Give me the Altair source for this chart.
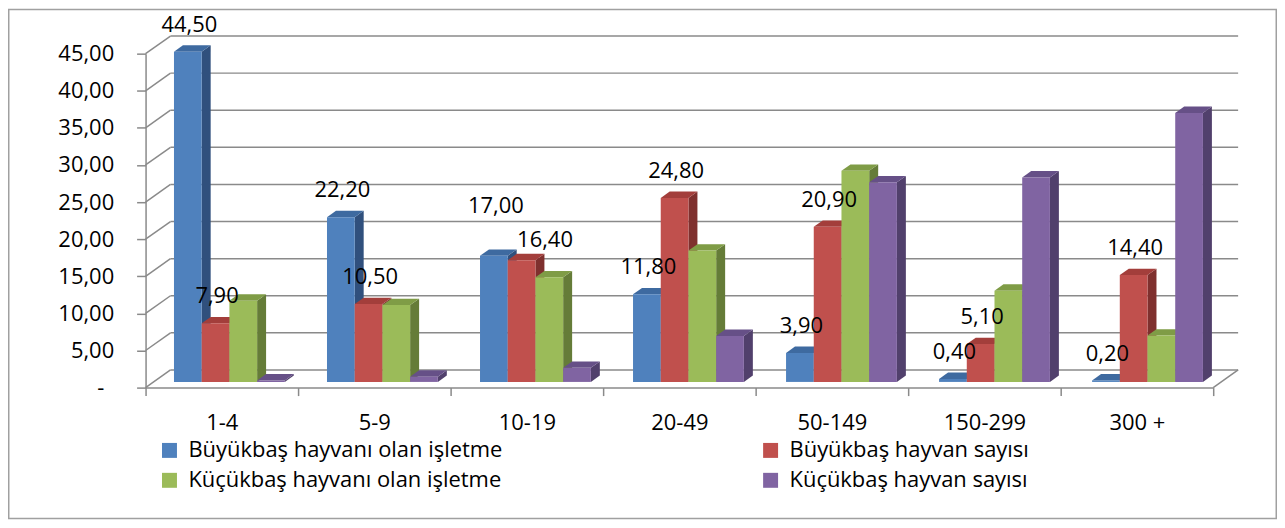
import altair as alt
import pandas as pd

# ---------------- data ----------------
categories = ["1-4", "5-9", "10-19", "20-49", "50-149", "150-299", "300 +"]
series = [
    "Büyükbaş hayvanı olan işletme",
    "Büyükbaş hayvan sayısı",
    "Küçükbaş hayvanı olan işletme",
    "Küçükbaş hayvan sayısı",
]
buyukbas_isletme = [44.5, 22.2, 17.0, 11.8, 3.9, 0.4, 0.2]
buyukbas_sayi = [7.9, 10.5, 16.4, 24.8, 20.9, 5.1, 14.4]
kucukbas_isletme = [10.95, 10.35, 14.1, 17.7, 28.45, 12.3, 6.25]
kucukbas_sayi = [0.2, 0.7, 1.9, 6.2, 26.9, 27.55, 36.25]
values = [buyukbas_isletme, buyukbas_sayi, kucukbas_isletme, kucukbas_sayi]
labelled_series = [0, 1]          # only these series carry data labels
y_ticks = [0, 5, 10, 15, 20, 25, 30, 35, 40, 45]

# ---------------- style ----------------
front_colors = ["#4F81BD", "#C0504D", "#9BBB59", "#8064A2"]
top_colors = ["#3E6AA0", "#A33E3B", "#7F9C46", "#665087"]
side_colors = ["#30507D", "#7F302E", "#657C38", "#51406C"]
FONT = "Open Sans"
FS = 22
GRID = "#8A8A8A"

W, H = 1071, 335
PAD = {"left": 138, "top": 45, "right": 64, "bottom": 132}
PX_X = W / len(categories)
PX_Y = H / 45.0
WALL_DX, WALL_DY = 25, 17.7        # back wall depth (px)
BAR_DX, BAR_DY = 8, 5.7            # bar front plane depth (px)
DEP_DX, DEP_DY = 9, 6.4            # bar thickness (px)
BAR_W = 27.8
# label nudges (px, x right / y up) to avoid overlaps, like the original
NUDGE = {(0, 2): (0.5, 23), (1, 2): (22, -7)}

wdx, wdy = WALL_DX / PX_X, WALL_DY / PX_Y
ddx, ddy = DEP_DX / PX_X, DEP_DY / PX_Y

bars, sides, tops, labels = [], [], [], []
for i, cat in enumerate(categories):
    start = 20.5 + 0.5 * i + BAR_DX
    for j, s in enumerate(series):
        v = values[j][i]
        x1 = i + (start + j * BAR_W) / PX_X
        x2 = x1 + BAR_W / PX_X
        yb = BAR_DY / PX_Y
        yt = yb + v
        bid = f"b{i}{j}"
        bars.append(dict(bid=bid, series=s, bx1=x1, bx2=x2, byb=yb, byt=yt))
        sides.append(dict(bid=bid, sx=x2, sy=yt, sy2=yb, clr=side_colors[j]))
        sides.append(dict(bid=bid, sx=x2 + ddx, sy=yt + ddy, sy2=yb + ddy, clr=side_colors[j]))
        tops.append(dict(bid=bid, ty=yt, tx=x1, tx2=x2, clr=top_colors[j]))
        tops.append(dict(bid=bid, ty=yt + ddy, tx=x1 + ddx, tx2=x2 + ddx, clr=top_colors[j]))
        if j in labelled_series:
            nx, ny = NUDGE.get((j, i), (0, 0))
            labels.append(dict(
                lx=(x1 + x2) / 2 + (1.5 + nx) / PX_X,
                ly=yt + ny / PX_Y,
                text=f"{v:.2f}".replace(".", ","),
            ))

bars_df = pd.DataFrame(bars)
sides_df = pd.DataFrame(sides)
tops_df = pd.DataFrame(tops)
labels_df = pd.DataFrame(labels)

n = len(y_ticks)
side_wall = pd.DataFrame(dict(wx=[0.0] * n, wx2=[wdx] * n,
                              wy=y_ticks, wy2=[t + wdy for t in y_ticks]))
back_wall = pd.DataFrame(dict(gx=[wdx] * n, gx2=[len(categories) + wdx] * n,
                              gy=[t + wdy for t in y_ticks]))
floor_edge = pd.DataFrame(dict(fx=[float(len(categories))], fx2=[len(categories) + wdx],
                               fy=[0.0], fy2=[wdy]))

# ---------------- scales & axes ----------------
xscale = alt.Scale(domain=[0, len(categories)], nice=False, zero=False)
yscale = alt.Scale(domain=[0, 45], nice=False, zero=True)

cat_js = "[" + ",".join("'" + c + "'" for c in categories) + "]"
x_vals = [k / 2 for k in range(0, 2 * len(categories) + 1)]
xaxis = alt.Axis(
    values=x_vals,
    labelExpr=f"datum.value % 1 == 0.5 ? {cat_js}[floor(datum.value)] : ''",
    tickOpacity=alt.condition("datum.value % 1 == 0", alt.value(1), alt.value(0)),
    title=None, grid=False, labelOverlap=False, labelFlush=False,
    tickSize=8, labelPadding=17, tickColor=GRID, domainColor=GRID,
    tickWidth=1.5, domainWidth=1.5, zindex=1,
    labelFont=FONT, labelFontSize=FS, labelColor="black",
)
yaxis = alt.Axis(
    values=y_ticks,
    labelExpr="datum.value == 0 ? '-' : replace(format(datum.value, '.2f'), '.', ',')",
    title=None, grid=False, tickSize=9,
    labelPadding=alt.condition("datum.value == 0", alt.value(33), alt.value(23)),
    zindex=1,
    tickColor=GRID, domainColor=GRID, tickWidth=1.5, domainWidth=1.5,
    labelFont=FONT, labelFontSize=FS, labelColor="black",
)


def X(f):
    return alt.X(f, type="quantitative", scale=xscale, axis=xaxis)


def Y(f):
    return alt.Y(f, type="quantitative", scale=yscale, axis=yaxis)


# ---------------- layers ----------------
frame = alt.Chart(pd.DataFrame({"a": [0]})).mark_rect(
    fillOpacity=0, stroke="#A0A0A0", strokeWidth=1.5
).encode(
    x=alt.value(-PAD["left"] + 0.75), x2=alt.value(W + PAD["right"] - 0.75),
    y=alt.value(-PAD["top"] + 0.75), y2=alt.value(H + PAD["bottom"] - 0.75),
)

wall_lines = alt.Chart(side_wall).mark_rule(color=GRID, strokeWidth=1.5).encode(
    x=X("wx"), x2="wx2", y=Y("wy"), y2="wy2")
back_lines = alt.Chart(back_wall).mark_rule(color=GRID, strokeWidth=1.5).encode(
    x=X("gx"), x2="gx2", y=Y("gy"))
floor_line = alt.Chart(floor_edge).mark_rule(color=GRID, strokeWidth=1.5).encode(
    x=X("fx"), x2="fx2", y=Y("fy"), y2="fy2")

side_faces = alt.Chart(sides_df).mark_area(orient="vertical").encode(
    x=X("sx"), y=Y("sy"), y2="sy2",
    detail="bid:N",
    fill=alt.Fill("clr:N", scale=None, legend=None),
)
top_faces = alt.Chart(tops_df).mark_area(orient="horizontal").encode(
    y=Y("ty"), x=X("tx"), x2="tx2",
    detail="bid:N",
    fill=alt.Fill("clr:N", scale=None, legend=None),
)
front_faces = alt.Chart(bars_df).mark_rect().encode(
    x=X("bx1"), x2="bx2", y=Y("byb"), y2="byt",
    color=alt.Color(
        "series:N",
        scale=alt.Scale(domain=series, range=front_colors),
        legend=alt.Legend(
            title=None, orient="none", legendX=13, legendY=387,
            direction="horizontal", columns=2,
            symbolType="square", symbolSize=225, symbolStrokeWidth=0,
            labelFont=FONT, labelFontSize=FS, labelColor="black",
            labelOffset=8, columnPadding=257, rowPadding=8, labelLimit=600,
        ),
    ),
)
value_labels = alt.Chart(labels_df).mark_text(
    font=FONT, fontSize=FS, color="black", dy=-27, baseline="middle", align="center"
).encode(x=X("lx"), y=Y("ly"), text="text:N")

chart = alt.layer(
    frame, wall_lines, back_lines, floor_line, side_faces, top_faces, front_faces, value_labels
).properties(
    width=W, height=H, padding=PAD, autosize=alt.AutoSizeParams(type="none"),
    background="white",
).configure_view(stroke=None)

chart.save("out.html", embed_options={"renderer": "svg", "actions": False})
